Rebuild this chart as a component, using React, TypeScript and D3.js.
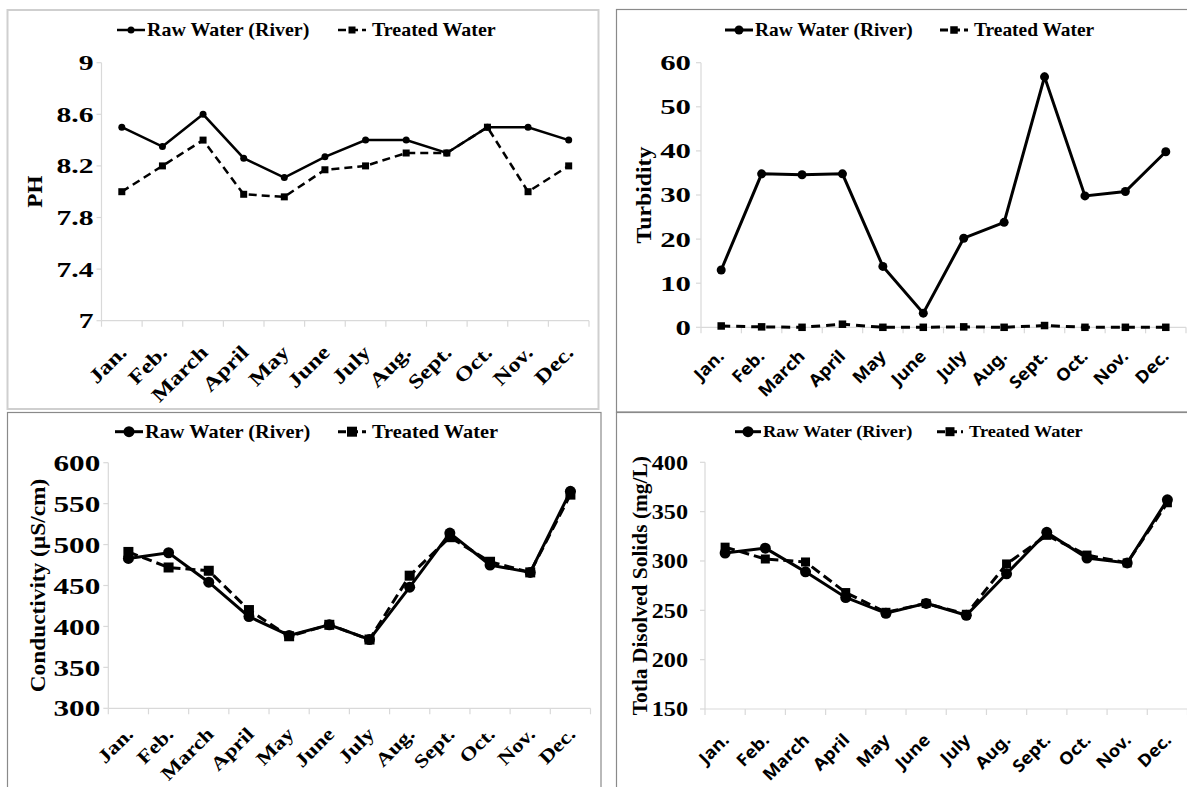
import React from "react";
import * as d3 from "d3";

const months = ["Jan.", "Feb.", "March", "April", "May", "June", "July", "Aug.", "Sept.", "Oct.", "Nov.", "Dec."];
const seriesNames = ["Raw Water (River)", "Treated Water"];

const phRaw = [8.5, 8.35, 8.6, 8.26, 8.11, 8.27, 8.4, 8.4, 8.3, 8.5, 8.5, 8.4];
const phTreated = [8.0, 8.2, 8.4, 7.98, 7.96, 8.17, 8.2, 8.3, 8.3, 8.5, 8.0, 8.2];
const phTicks = [7, 7.4, 7.8, 8.2, 8.6, 9];

const turbRaw = [13, 34.8, 34.6, 34.8, 13.8, 3.2, 20.2, 23.8, 56.8, 29.8, 30.8, 39.8];
const turbTreated = [0.3, 0.1, 0.0, 0.7, 0.0, 0.0, 0.1, 0.0, 0.4, 0.0, 0.0, 0.0];
const turbTicks = [0, 10, 20, 30, 40, 50, 60];

const condRaw = [483, 490, 454, 412, 389, 402, 384, 448, 514, 475, 466, 565];
const condTreated = [491, 472, 468, 420, 388, 402, 384, 462, 509, 479, 466, 561];
const condTicks = [300, 350, 400, 450, 500, 550, 600];

const tdsRaw = [308, 313, 289, 263, 247, 257, 245, 287, 329, 303, 298, 362];
const tdsTreated = [314, 302, 299, 268, 248, 257, 246, 297, 326, 306, 298, 359];
const tdsTicks = [150, 200, 250, 300, 350, 400];

const SERIF = "'Liberation Serif', 'Times New Roman', serif";
const SANS = "'Noto Sans', 'Liberation Sans', sans-serif";

type Panel = {
  raw: number[];
  treated: number[];
  ticks: number[];
  yTitle: string;
  x0: number; x1: number; yTop: number; yBot: number;
  legendY: number; legRawX: number; legTreatX: number; legLineW: number;
  legSize: number; legSx: number;
  tickSize: number; tickSx: number; tickGap: number;
  xLabFamily: string; xLabSize: number; xLabSx: number; xLabDx: number; xLabDy: number;
  titleX: number; titleSize: number; titleSx: number;
  lw: number; r: number; sq: number; dash: string;
};

const panels: Panel[] = [
  {
    raw: phRaw, treated: phTreated, ticks: phTicks, yTitle: "PH",
    x0: 101.5, x1: 589, yTop: 62.7, yBot: 320.7,
    legendY: 30, legRawX: 117, legTreatX: 338, legLineW: 28, legSize: 18.5, legSx: 1.08,
    tickSize: 22, tickSx: 1.35, tickGap: 8,
    xLabFamily: SERIF, xLabSize: 20, xLabSx: 1.22, xLabDx: 6, xLabDy: 33,
    titleX: 35, titleSize: 21, titleSx: 1.1,
    lw: 2.5, r: 3.5, sq: 7, dash: "8,5",
  },
  {
    raw: turbRaw, treated: turbTreated, ticks: turbTicks, yTitle: "Turbidity",
    x0: 701, x1: 1186, yTop: 62.7, yBot: 327.3,
    legendY: 30, legRawX: 725, legTreatX: 940, legLineW: 28, legSize: 18.5, legSx: 1.05,
    tickSize: 22, tickSx: 1.4, tickGap: 10,
    xLabFamily: SANS, xLabSize: 17, xLabSx: 1.08, xLabDx: 4, xLabDy: 30,
    titleX: 644, titleSize: 22, titleSx: 1.08,
    lw: 3, r: 4.5, sq: 7.5, dash: "9,6",
  },
  {
    raw: condRaw, treated: condTreated, ticks: condTicks, yTitle: "Conductivity (µS/cm)",
    x0: 108.3, x1: 590.5, yTop: 462.7, yBot: 708.3,
    legendY: 431.7, legRawX: 115, legTreatX: 338, legLineW: 28, legSize: 18.5, legSx: 1.1,
    tickSize: 24, tickSx: 1.3, tickGap: 8,
    xLabFamily: SERIF, xLabSize: 19, xLabSx: 1.2, xLabDx: 6, xLabDy: 27,
    titleX: 38, titleSize: 22, titleSx: 1.06,
    lw: 3, r: 5.5, sq: 10, dash: "10,5",
  },
  {
    raw: tdsRaw, treated: tdsTreated, ticks: tdsTicks, yTitle: "Totla Disolved Solids (mg/L)",
    x0: 705, x1: 1187.5, yTop: 462.3, yBot: 709,
    legendY: 431.7, legRawX: 735, legTreatX: 937, legLineW: 26, legSize: 17.5, legSx: 1.05,
    tickSize: 22, tickSx: 1.1, tickGap: 17,
    xLabFamily: SANS, xLabSize: 17, xLabSx: 1.08, xLabDx: 5, xLabDy: 32,
    titleX: 640, titleSize: 21, titleSx: 1.02,
    lw: 3, r: 5.5, sq: 9, dash: "10,5",
  },
];

function SText(props: {
  x: number; y: number; rotate?: number; sx?: number; size: number; family: string;
  weight?: string | number; anchor?: string; children: React.ReactNode;
}) {
  const { x, y, rotate = 0, sx = 1, size, family, weight = "bold", anchor = "start", children } = props;
  return (
    <g transform={`translate(${x},${y}) rotate(${rotate})`}>
      <text transform={`scale(${sx},1)`} fontSize={size} fontFamily={family} fontWeight={weight}
        textAnchor={anchor as any} fill="#000">{children}</text>
    </g>
  );
}

function ChartPanel({ p }: { p: Panel }) {
  const x = d3.scaleBand<string>().domain(months).range([p.x0, p.x1]).padding(0);
  const y = d3.scaleLinear().domain([p.ticks[0], p.ticks[p.ticks.length - 1]]).range([p.yBot, p.yTop]);
  const cx = (i: number) => (x(months[i]) as number) + x.bandwidth() / 2;
  const line = d3.line<number>().x((_, i) => cx(i)).y((d) => y(d));
  const axisColor = "#d9d9d9";
  const boundaries = months.map((m) => x(m) as number).concat([p.x1]);
  const ly = p.legendY;
  const legText = (xs: number, t: string) => (
    <SText x={xs} y={ly + p.legSize * 0.33} size={p.legSize} sx={p.legSx} family={SERIF}>{t}</SText>
  );
  const titleMidY = (p.yTop + p.yBot) / 2;
  return (
    <g>
      <line x1={p.x0} x2={p.x0} y1={p.yTop} y2={p.yBot} stroke={axisColor} strokeWidth={1.2} />
      <line x1={p.x0} x2={p.x1} y1={p.yBot} y2={p.yBot} stroke={axisColor} strokeWidth={1.2} />
      {p.ticks.map((t) => (
        <line key={"yt" + t} x1={p.x0 - 5} x2={p.x0} y1={y(t)} y2={y(t)} stroke={axisColor} strokeWidth={1.2} />
      ))}
      {boundaries.map((b, i) => (
        <line key={"xt" + i} x1={b} x2={b} y1={p.yBot} y2={p.yBot + 6} stroke={axisColor} strokeWidth={1.2} />
      ))}
      {p.ticks.map((t) => (
        <SText key={"yl" + t} x={p.x0 - p.tickGap} y={y(t) + p.tickSize * 0.34} size={p.tickSize}
          sx={p.tickSx} family={SERIF} anchor="end">{String(t)}</SText>
      ))}
      {months.map((m, i) => (
        <SText key={"xl" + m} x={cx(i) + p.xLabDx} y={p.yBot + p.xLabDy} rotate={-45} size={p.xLabSize}
          sx={p.xLabSx} family={p.xLabFamily} anchor="end">{m}</SText>
      ))}
      <SText x={p.titleX + p.titleSize * 0.33} y={titleMidY} rotate={-90} size={p.titleSize} sx={p.titleSx}
        family={SERIF} anchor="middle">{p.yTitle}</SText>
      <path d={line(p.treated) || ""} fill="none" stroke="#000" strokeWidth={p.lw} strokeDasharray={p.dash} />
      <path d={line(p.raw) || ""} fill="none" stroke="#000" strokeWidth={p.lw} />
      {p.treated.map((v, i) => (
        <rect key={"sq" + i} x={cx(i) - p.sq / 2} y={y(v) - p.sq / 2} width={p.sq} height={p.sq} fill="#000" />
      ))}
      {p.raw.map((v, i) => (
        <circle key={"ci" + i} cx={cx(i)} cy={y(v)} r={p.r} fill="#000" />
      ))}
      <line x1={p.legRawX} x2={p.legRawX + p.legLineW} y1={ly} y2={ly} stroke="#000" strokeWidth={p.lw} />
      <circle cx={p.legRawX + p.legLineW / 2} cy={ly} r={p.r} fill="#000" />
      {legText(p.legRawX + p.legLineW + 2, seriesNames[0])}
      <line x1={p.legTreatX} x2={p.legTreatX + p.legLineW} y1={ly} y2={ly} stroke="#000" strokeWidth={p.lw}
        strokeDasharray="8,4" />
      <rect x={p.legTreatX + p.legLineW / 2 - p.sq / 2} y={ly - p.sq / 2} width={p.sq} height={p.sq} fill="#000" />
      {legText(p.legTreatX + p.legLineW + 6, seriesNames[1])}
    </g>
  );
}

export default function App() {
  return (
    <svg width={1187} height={787} viewBox="0 0 1187 787"
      style={{ position: "absolute", left: 0, top: 0, background: "#fff" }}>
      <rect x={0} y={0} width={1187} height={787} fill="#fff" />
      <rect x={7.5} y={10} width={591} height={399} fill="none" stroke="#cfcfcf" strokeWidth={2} />
      <rect x={616.5} y={9.5} width={580} height={402.5} fill="none" stroke="#8a8a8a" strokeWidth={1.2} />
      <rect x={7.5} y={412.5} width={593.5} height={390} fill="none" stroke="#8a8a8a" strokeWidth={1.2} />
      <rect x={616.5} y={412.5} width={580} height={390} fill="none" stroke="#8a8a8a" strokeWidth={1.2} />
      {panels.map((p, i) => (
        <ChartPanel key={i} p={p} />
      ))}
    </svg>
  );
}
